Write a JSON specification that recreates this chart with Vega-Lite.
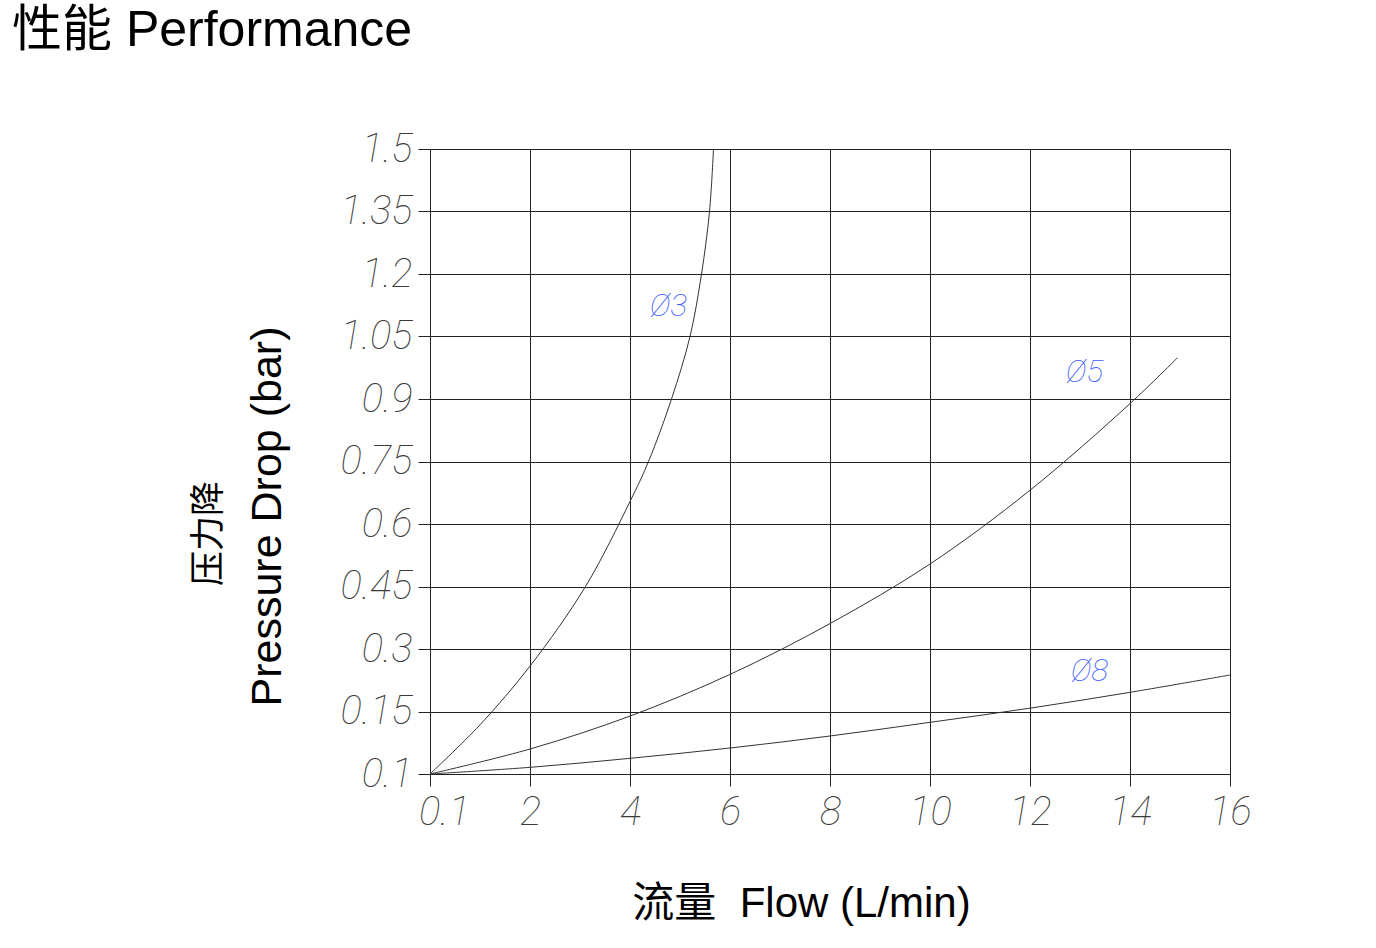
{
  "$schema": "https://vega.github.io/schema/vega-lite/v6.json",
  "autosize": "none",
  "width": 800,
  "height": 625,
  "padding": {"left": 430, "top": 149, "right": 146, "bottom": 174},
  "background": "white",
  "title": {
    "text": "性能 Performance",
    "anchor": "start",
    "frame": "group",
    "dx": -418,
    "offset": 33,
    "baseline": "alphabetic",
    "font": "Liberation Sans, Noto Sans CJK SC",
    "fontSize": 50,
    "fontWeight": "normal",
    "color": "#000000"
  },
  "config": {
    "view": {"stroke": null},
    "axis": {
      "grid": true,
      "gridColor": "#222222",
      "gridWidth": 1,
      "gridOpacity": 1,
      "domain": false,
      "tickColor": "#222222",
      "tickSize": 12,
      "tickWidth": 1,
      "labelFont": "Roboto",
      "labelFontStyle": "italic",
      "labelFontWeight": 100,
      "labelColor": "#3a3a3a",
      "labelFontSize": 40,
      "titleFont": "Liberation Sans, Noto Sans CJK SC",
      "titleFontWeight": "normal",
      "titleColor": "#000000"
    }
  },
  "datasets": {
    "curves": [
      {"series": "Ø3", "flow": 0, "drop": 0},
      {"series": "Ø3", "flow": 1.0, "drop": 0.118},
      {"series": "Ø3", "flow": 2.0, "drop": 0.259},
      {"series": "Ø3", "flow": 3.11, "drop": 0.45},
      {"series": "Ø3", "flow": 4.0, "drop": 0.654},
      {"series": "Ø3", "flow": 4.37, "drop": 0.75},
      {"series": "Ø3", "flow": 4.83, "drop": 0.9},
      {"series": "Ø3", "flow": 5.2, "drop": 1.05},
      {"series": "Ø3", "flow": 5.43, "drop": 1.2},
      {"series": "Ø3", "flow": 5.59, "drop": 1.35},
      {"series": "Ø3", "flow": 5.67, "drop": 1.5},
      {"series": "Ø5", "flow": 0, "drop": 0},
      {"series": "Ø5", "flow": 2, "drop": 0.06},
      {"series": "Ø5", "flow": 4, "drop": 0.139},
      {"series": "Ø5", "flow": 6, "drop": 0.239},
      {"series": "Ø5", "flow": 8, "drop": 0.361},
      {"series": "Ø5", "flow": 10, "drop": 0.504},
      {"series": "Ø5", "flow": 12, "drop": 0.681},
      {"series": "Ø5", "flow": 14, "drop": 0.889},
      {"series": "Ø5", "flow": 14.95, "drop": 0.999},
      {"series": "Ø8", "flow": 0, "drop": 0},
      {"series": "Ø8", "flow": 2, "drop": 0.016},
      {"series": "Ø8", "flow": 4, "drop": 0.0376},
      {"series": "Ø8", "flow": 6, "drop": 0.0624},
      {"series": "Ø8", "flow": 8, "drop": 0.0912},
      {"series": "Ø8", "flow": 10, "drop": 0.124},
      {"series": "Ø8", "flow": 12, "drop": 0.158},
      {"series": "Ø8", "flow": 14, "drop": 0.196},
      {"series": "Ø8", "flow": 16, "drop": 0.2376}
    ],
    "labels": [
      {"label": "Ø3", "flow": 4.77, "drop": 1.124},
      {"label": "Ø5", "flow": 13.09, "drop": 0.966},
      {"label": "Ø8", "flow": 13.19, "drop": 0.247}
    ]
  },
  "resolve": {"axis": {"y": "independent"}},
  "layer": [
    {
      "data": {"name": "curves"},
      "mark": {"type": "line", "interpolate": "catmull-rom", "color": "#333333", "strokeWidth": 1},
      "encoding": {
        "x": {
          "field": "flow",
          "type": "quantitative",
          "scale": {"domain": [0, 16], "nice": false, "zero": false},
          "axis": {
            "values": [0, 2, 4, 6, 8, 10, 12, 14, 16],
            "labelExpr": "datum.value == 0 ? '0.1' : datum.label",
            "labelPadding": 6,
            "labelOffset": {"condition": {"test": "datum.value == 0", "value": 14}, "value": 0},
            "labelFlush": false,
            "labelOverlap": false,
            "title": "流量\u00a0\u00a0Flow (L/min)",
            "titleFontSize": 42,
            "titleX": 371,
            "titleY": 129,
            "titleAlign": "center",
            "titleBaseline": "middle",
            "titleAnchor": null
          }
        },
        "y": {
          "field": "drop",
          "type": "quantitative",
          "scale": {"domain": [0, 1.5], "nice": false, "zero": false},
          "axis": {
            "orient": "left",
            "values": [0, 0.15, 0.3, 0.45, 0.6, 0.75, 0.9, 1.05, 1.2, 1.35, 1.5],
            "labelExpr": "datum.value == 0 ? '0.1' : format(datum.value, '.2~f')",
            "labelPadding": 6,
            "labelFlush": false,
            "labelOverlap": false,
            "labelBaseline": "middle",
            "title": "Pressure Drop (bar)",
            "titleFontSize": 43,
            "titleAngle": 270,
            "titleX": -163,
            "titleY": 367,
            "titleAlign": "center",
            "titleBaseline": "middle"
          }
        },
        "detail": {"field": "series", "type": "nominal"}
      }
    },
    {
      "data": {"name": "labels"},
      "mark": {"type": "text", "font": "Roboto", "fontStyle": "italic", "fontWeight": 100, "fontSize": 32, "color": "#3d5afe", "align": "center", "baseline": "middle"},
      "encoding": {
        "x": {"field": "flow", "type": "quantitative"},
        "y": {
          "field": "drop",
          "type": "quantitative",
          "axis": {
            "orient": "left",
            "grid": false,
            "labels": false,
            "ticks": false,
            "domain": false,
            "title": "压力降",
            "titleFontSize": 35,
            "titleAngle": 270,
            "titleX": -222,
            "titleY": 384,
            "titleAlign": "center",
            "titleBaseline": "middle"
          }
        },
        "text": {"field": "label"}
      }
    }
  ]
}
